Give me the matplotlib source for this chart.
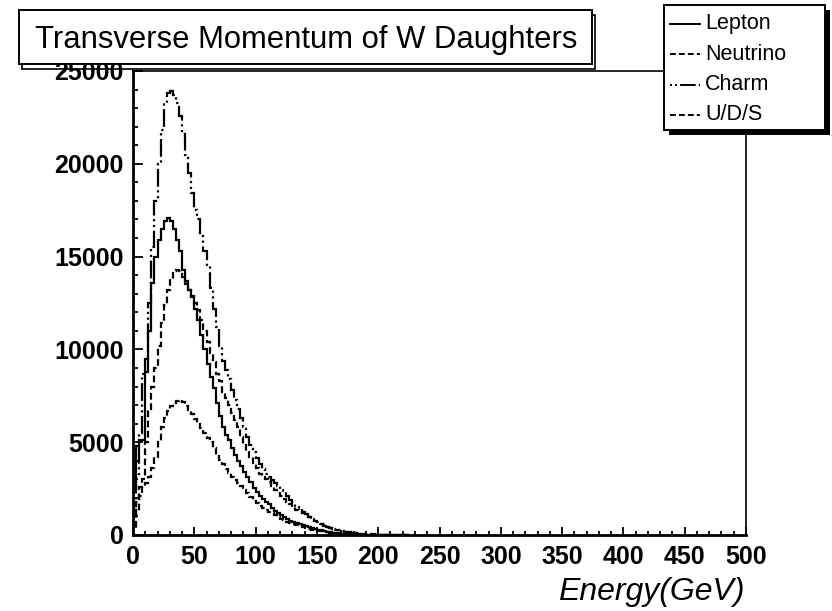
import numpy as np
import matplotlib
matplotlib.use("Agg")
import matplotlib.pyplot as plt
from matplotlib.patches import Rectangle
from matplotlib.lines import Line2D
from matplotlib.ticker import MultipleLocator

# ---------------- data ----------------
bin_width = 2.5
bin_edges = np.arange(0, 225 + bin_width, bin_width)

lepton = [2500, 4800, 5100, 5100, 8800, 11000, 13600, 15000, 15900, 16500,
          16900, 17100, 16900, 16500, 15900, 15300, 14300, 13700, 13200, 12800,
          12200, 11600, 10800, 10000, 9200, 8500, 7900, 7100, 6400, 5800,
          5400, 5100, 4700, 4300, 4000, 3700, 3400, 3100, 2850, 2550,
          2300, 2100, 1950, 1800, 1650, 1450, 1300, 1180, 1070, 960,
          870, 780, 700, 620, 570, 520, 470, 420, 370, 320,
          280, 245, 210, 180, 155, 130, 110, 95, 80, 68,
          56, 46, 38, 31, 25, 20, 16, 13, 10, 8,
          6, 5, 4, 3, 3, 2, 2, 1, 1, 1]

neutrino = [700, 1800, 2600, 3000, 5000, 6800, 8000, 9000, 10200, 11400,
            12400, 13200, 13800, 14200, 14300, 14200, 13900, 13500, 13200, 12900,
            12500, 12100, 11600, 11000, 10400, 9800, 9300, 8700, 8300, 7700,
            7400, 7000, 6600, 6200, 5800, 5300, 4900, 4550, 4200, 3900,
            3600, 3300, 3150, 3000, 2850, 2650, 2450, 2250, 2100, 1950,
            1800, 1650, 1500, 1350, 1280, 1200, 1100, 990, 880, 780,
            690, 600, 520, 450, 390, 340, 290, 250, 210, 175,
            145, 120, 98, 80, 65, 52, 42, 34, 27, 21,
            17, 13, 10, 8, 6, 5, 4, 3, 2, 1]

charm = [1300, 3200, 5500, 8700, 9500, 12500, 15500, 18000, 20000, 21800,
         23300, 23800, 23900, 23700, 23300, 22600, 21600, 20500, 19500, 18400,
         17500, 17000, 16100, 15300, 14500, 13300, 12200, 11200, 10200, 9400,
         8900, 8400, 7800, 7300, 6800, 6300, 5800, 5300, 4850, 4450,
         4150, 3850, 3550, 3300, 3100, 2950, 2800, 2650, 2450, 2300,
         2100, 1900, 1700, 1500, 1400, 1250, 1120, 980, 880, 780,
         680, 590, 510, 440, 370, 320, 270, 230, 190, 160,
         135, 110, 92, 78, 65, 51, 42, 35, 28, 22,
         18, 14, 12, 9, 8, 6, 5, 4, 3, 3]

uds = [400, 1300, 2100, 2600, 2800, 3100, 3600, 4200, 5000, 5800,
       6300, 6700, 6950, 7100, 7200, 7250, 7150, 6950, 6750, 6500,
       6250, 6000, 5750, 5500, 5250, 5000, 4700, 4300, 4050, 3800,
       3550, 3350, 3150, 2950, 2800, 2650, 2450, 2250, 2050, 1850,
       1700, 1580, 1460, 1360, 1260, 1160, 1060, 960, 880, 800,
       720, 650, 580, 520, 470, 420, 370, 330, 290, 255,
       225, 195, 170, 148, 128, 110, 95, 80, 68, 57,
       48, 40, 33, 27, 22, 18, 14, 11, 9, 7,
       5, 4, 3, 3, 2, 2, 1, 1, 1, 0]

series_names = ["Lepton", "Neutrino", "Charm", "U/D/S"]
x_ticks = [0, 50, 100, 150, 200, 250, 300, 350, 400, 450, 500]
y_ticks = [0, 5000, 10000, 15000, 20000, 25000]
title = "Transverse Momentum of W Daughters"
xlabel = "Energy(GeV)"

# ---------------- styling ----------------
W, H = 832, 611
FONT = "Liberation Sans"
plt.rcParams["font.family"] = [FONT, "DejaVu Sans"]

styles = {
    "Lepton": "-",
    "Neutrino": (0, (3, 1.6)),
    "Charm": (0, (1, 1.6, 1, 1.6, 8, 1.6)),
    "U/D/S": (0, (3, 1.6)),
}
data = {"Lepton": lepton, "Neutrino": neutrino, "Charm": charm, "U/D/S": uds}


def fx(px):
    return px / W


def fy(py):
    return 1 - py / H


fig = plt.figure(figsize=(W / 100, H / 100), dpi=100)
fig.patch.set_facecolor("white")
ax = fig.add_axes([fx(133), fy(535), fx(746) - fx(133), fy(71) - fy(535)])

for name in series_names:
    ax.stairs(data[name], bin_edges, color="black", linewidth=1.6,
              linestyle=styles[name], baseline=0)

ax.set_xlim(0, 500)
ax.set_ylim(0, 25000)
ax.set_xticks(x_ticks)
ax.set_xticklabels([str(v) for v in x_ticks])
ax.set_yticks(y_ticks)
ax.set_yticklabels([str(v) for v in y_ticks])
ax.xaxis.set_minor_locator(MultipleLocator(10))
ax.yaxis.set_minor_locator(MultipleLocator(1000))
ax.tick_params(axis="both", which="both", direction="in", top=False, right=False,
               width=1.3, color="black")
ax.tick_params(axis="y", which="major", length=7.2, pad=6.5)
ax.tick_params(axis="y", which="minor", length=3.6)
ax.tick_params(axis="x", which="major", length=6.0, pad=7.0)
ax.tick_params(axis="x", which="minor", length=3.0)
for lab in ax.get_xticklabels() + ax.get_yticklabels():
    lab.set_fontsize(18)
    lab.set_fontweight("bold")
    lab.set_family(FONT)

ax.spines["left"].set_linewidth(2.0)
ax.spines["bottom"].set_linewidth(2.0)
ax.spines["top"].set_linewidth(1.2)
ax.spines["right"].set_linewidth(1.2)

# x axis title (right aligned at the end of the axis)
fig.text(fx(745), fy(600), xlabel, ha="right", va="baseline",
         fontsize=23, style="italic", family=FONT)

# ---------------- title pave ----------------
tx0, ty0, tx1, ty1 = 19, 10, 592, 64
fig.patches.append(Rectangle((fx(tx0 + 3), fy(ty1 + 5)), fx(tx1 - tx0), fy(ty0) - fy(ty1),
                             transform=fig.transFigure, facecolor="none",
                             edgecolor="black", linewidth=1.2, zorder=7))
fig.patches.append(Rectangle((fx(tx0), fy(ty1)), fx(tx1 - tx0), fy(ty0) - fy(ty1),
                             transform=fig.transFigure, facecolor="white",
                             edgecolor="black", linewidth=1.4, zorder=8))
fig.text(fx(35), fy(48), title, ha="left", va="baseline", fontsize=22.3,
         family=FONT, zorder=10)

# ---------------- legend ----------------
lx0, ly0, lx1, ly1 = 664, 5, 825, 130
fig.patches.append(Rectangle((fx(lx0 + 5), fy(ly1 + 5)), fx(lx1 - lx0), fy(ly0) - fy(ly1),
                             transform=fig.transFigure, facecolor="black",
                             edgecolor="black", linewidth=0, zorder=7))
fig.patches.append(Rectangle((fx(lx0), fy(ly1)), fx(lx1 - lx0), fy(ly0) - fy(ly1),
                             transform=fig.transFigure, facecolor="white",
                             edgecolor="black", linewidth=1.4, zorder=8))
row_y = [24, 54, 85, 115]
for name, ry in zip(series_names, row_y):
    fig.add_artist(Line2D([fx(670), fx(700)], [fy(ry), fy(ry)], transform=fig.transFigure,
                          color="black", linewidth=1.4, linestyle=styles[name], zorder=9))
    fig.text(fx(705), fy(ry), name, ha="left", va="center", fontsize=15.5,
             family=FONT, zorder=10)

fig.savefig("out.png", dpi=100, facecolor="white")
